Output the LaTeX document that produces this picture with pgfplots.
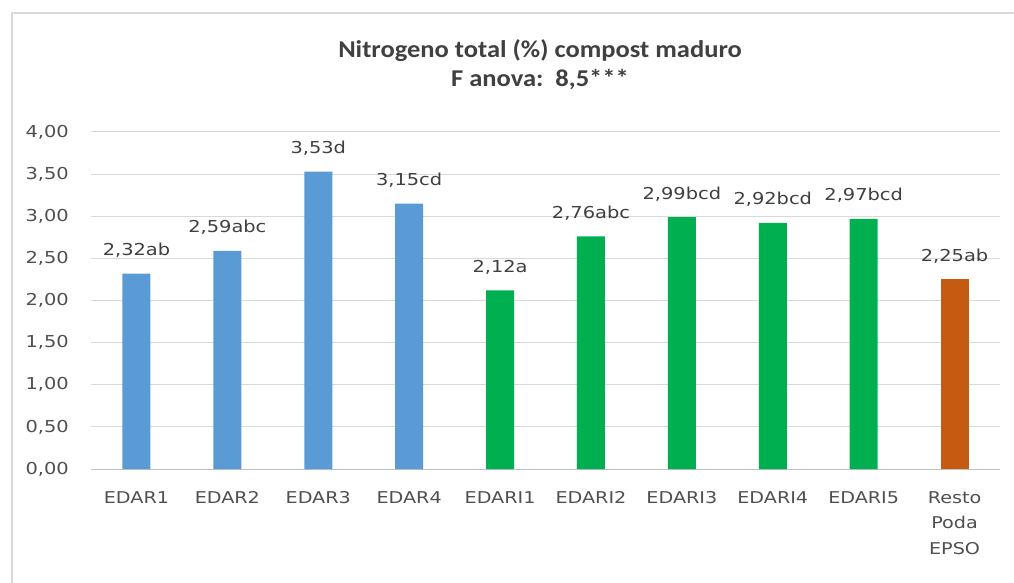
\documentclass[border=0pt]{standalone}
\usepackage{pgfplots}
\pgfplotsset{compat=1.18}
\usepackage{fontspec}
\setmainfont{DejaVu Sans}[FakeStretch=1.18]
\newfontfamily\titlefont{Carlito}[FakeStretch=1.1]
\definecolor{cblue}{HTML}{5B9BD5}
\definecolor{cgreen}{HTML}{00B050}
\definecolor{corange}{HTML}{C55A11}
\definecolor{gridgray}{HTML}{D9D9D9}
\definecolor{axgray}{HTML}{BFBFBF}
\definecolor{txtgray}{HTML}{505050}
\definecolor{lblgray}{HTML}{404040}
\begin{document}
\begin{tikzpicture}
\useasboundingbox (-91bp,-114bp) rectangle (923bp,469bp);
\fill[white] (-91bp,-114bp) rectangle (923bp,469bp);
\draw[gridgray, line width=1.5bp] (-79bp,-114bp) -- (-79bp,456bp) -- (923bp,456bp);
\node[font=\titlefont\bfseries\fontsize{24.2}{29}\selectfont, text=lblgray, align=center] at (449bp,404bp)
  {Nitrogeno total (\%) compost maduro\\F anova:~~8,5***};
\begin{axis}[
  at={(0bp,0bp)}, anchor=south west,
  width=909bp, height=337bp, scale only axis,
  xmin=-0.5, xmax=9.5, ymin=0, ymax=4,
  ytick={0,0.5,...,4},
  xtick={0,...,9},
  xticklabels={EDAR1,EDAR2,EDAR3,EDAR4,EDARI1,EDARI2,EDARI3,EDARI4,EDARI5,{Resto\\Poda\\EPSO}},
  ymajorgrids, grid style={draw=gridgray, line width=1bp},
  axis x line*=bottom, axis y line*=left,
  y axis line style={draw=none},
  x axis line style={draw=axgray, line width=1bp, -},
  major tick length=0pt,
  /pgf/number format/assume math mode=true,
  /pgf/number format/use comma,
  /pgf/number format/fixed,
  /pgf/number format/fixed zerofill,
  /pgf/number format/precision=2,
  yticklabel style={font=\fontsize{16.5}{19}\selectfont, text=txtgray, inner sep=0pt, xshift=-22bp},
  xticklabel style={font=\fontsize{16.3}{26}\selectfont, text=txtgray, align=center, inner sep=0pt, yshift=-22bp},
  ybar, bar width=28bp, bar shift=0pt,
  point meta=explicit symbolic,
  nodes near coords,
  every node near coord/.append style={anchor=base, yshift=18bp, inner sep=0pt, font=\fontsize{16.5}{19}\selectfont, text=lblgray},
]
\addplot[fill=cblue, draw=none] coordinates {(0,2.32) [2,32ab] (1,2.59) [2,59abc] (2,3.53) [3,53d] (3,3.15) [3,15cd]};
\addplot[fill=cgreen, draw=none] coordinates {(4,2.12) [2,12a] (5,2.76) [2,76abc] (6,2.99) [2,99bcd] (7,2.92) [2,92bcd] (8,2.97) [2,97bcd]};
\addplot[fill=corange, draw=none] coordinates {(9,2.25) [2,25ab]};
\end{axis}
\end{tikzpicture}
\end{document}
